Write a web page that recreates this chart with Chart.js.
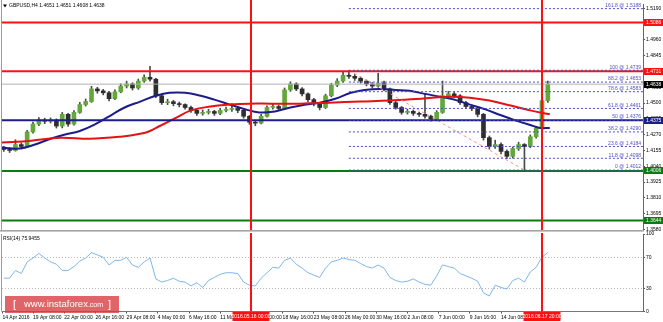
<!DOCTYPE html>
<html><head><meta charset="utf-8">
<script src="https://cdn.jsdelivr.net/npm/chart.js@4.4.1/dist/chart.umd.min.js"></script>
<style>
html,body{margin:0;padding:0;background:#fff;width:663px;height:322px;overflow:hidden;position:relative}
#c1{position:absolute;left:0;top:0}
#c2{position:absolute;left:0;top:226px}
</style></head><body>
<canvas id="c1" width="663" height="234"></canvas>
<canvas id="c2" width="663" height="96"></canvas>
<script>
// ---------------- DATA ----------------
const symbolTitle = 'GBPUSD,H4 1.4651 1.4651 1.4608 1.4638';
const rsiTitle = 'RSI(14) 75.9455';

// 12-hour candles (14 Apr 2016 .. 17 Jun 2016)
const candleOpen = [1.4170,1.4162,1.4155,1.4198,1.4184,1.4290,1.4347,1.4376,1.4368,1.4376,
1.4333,1.4418,1.4347,1.4432,1.4489,1.4511,1.4603,1.4589,1.4575,1.4532,
1.4582,1.4624,1.4639,1.4610,1.4660,1.4688,1.4674,1.4553,1.4503,1.4510,
1.4496,1.4489,1.4468,1.4447,1.4425,1.4432,1.4439,1.4425,1.4447,1.4454,
1.4461,1.4447,1.4404,1.4361,1.4354,1.4404,1.4468,1.4475,1.4461,1.4596,
1.4639,1.4603,1.4567,1.4525,1.4496,1.4468,1.4553,1.4631,1.4660,1.4703,
1.4695,1.4681,1.4660,1.4639,1.4624,1.4646,1.4603,1.4503,1.4468,1.4432,
1.4440,1.4425,1.4418,1.4404,1.4383,1.4432,1.4553,1.4567,1.4553,1.4503,
1.4475,1.4461,1.4418,1.4248,1.4184,1.4198,1.4148,1.4112,1.4169,1.4198,
1.4184,1.4255,1.4318,1.4518];
const candleClose = [1.4162,1.4155,1.4198,1.4184,1.4290,1.4347,1.4376,1.4368,1.4376,1.4333,
1.4418,1.4347,1.4432,1.4489,1.4511,1.4603,1.4589,1.4575,1.4532,1.4582,
1.4624,1.4639,1.4610,1.4660,1.4688,1.4674,1.4553,1.4503,1.4510,1.4496,
1.4489,1.4468,1.4447,1.4425,1.4432,1.4439,1.4425,1.4447,1.4454,1.4461,
1.4447,1.4404,1.4361,1.4354,1.4404,1.4468,1.4475,1.4461,1.4596,1.4639,
1.4603,1.4567,1.4525,1.4496,1.4468,1.4553,1.4631,1.4660,1.4703,1.4695,
1.4681,1.4660,1.4639,1.4624,1.4646,1.4603,1.4503,1.4468,1.4432,1.4440,
1.4425,1.4418,1.4404,1.4383,1.4432,1.4553,1.4567,1.4553,1.4503,1.4475,
1.4461,1.4418,1.4248,1.4184,1.4198,1.4148,1.4112,1.4169,1.4198,1.4184,
1.4255,1.4318,1.4518,1.4638];
const candleHigh = [1.4185,1.4176,1.4233,1.4210,1.4302,1.4362,1.4395,1.4390,1.4392,1.4385,
1.4432,1.4425,1.4445,1.4505,1.4530,1.4622,1.4615,1.4600,1.4585,1.4596,
1.4640,1.4660,1.4648,1.4675,1.4705,1.4767,1.4680,1.4565,1.4528,1.4520,
1.4508,1.4495,1.4478,1.4455,1.4450,1.4455,1.4448,1.4462,1.4470,1.4496,
1.4470,1.4455,1.4410,1.4372,1.4418,1.4480,1.4492,1.4485,1.4610,1.4655,
1.4648,1.4612,1.4575,1.4535,1.4505,1.4565,1.4645,1.4678,1.4725,1.4739,
1.4708,1.4690,1.4668,1.4650,1.4717,1.4660,1.4610,1.4512,1.4475,1.4455,
1.4450,1.4435,1.4567,1.4412,1.4445,1.4660,1.4585,1.4580,1.4562,1.4512,
1.4485,1.4470,1.4425,1.4260,1.4230,1.4210,1.4160,1.4180,1.4215,1.4205,
1.4268,1.4330,1.4530,1.4660];
const candleLow = [1.4148,1.4140,1.4150,1.4165,1.4178,1.4281,1.4335,1.4350,1.4355,1.4318,
1.4319,1.4330,1.4340,1.4425,1.4478,1.4505,1.4572,1.4560,1.4515,1.4525,
1.4575,1.4610,1.4595,1.4600,1.4650,1.4660,1.4540,1.4490,1.4488,1.4480,
1.4472,1.4455,1.4432,1.4410,1.4412,1.4420,1.4410,1.4415,1.4435,1.4440,
1.4430,1.4390,1.4345,1.4335,1.4348,1.4398,1.4455,1.4445,1.4455,1.4585,
1.4590,1.4552,1.4510,1.4480,1.4450,1.4460,1.4545,1.4620,1.4650,1.4680,
1.4665,1.4645,1.4625,1.4610,1.4615,1.4590,1.4490,1.4455,1.4418,1.4420,
1.4410,1.4402,1.4390,1.4368,1.4375,1.4425,1.4540,1.4538,1.4490,1.4460,
1.4445,1.4400,1.4230,1.4165,1.4170,1.4130,1.4095,1.4100,1.4155,1.4012,
1.4175,1.4245,1.4310,1.4505];

// moving averages (bar index, value)
const blueMaIdx = [4,13,21,29,36,44,52,60,67,75,83,90,98,106,113,121,129,136,144,152,160,167,175,183,190,198,206,213,221,229,236,244,252,260,267,275,280,285];
const blueMa = [1.4176,1.4169,1.4198,1.4240,1.4269,1.4297,1.4347,1.4411,1.4468,1.4511,1.4553,1.4575,1.4575,1.4553,1.4525,1.4489,1.4454,1.4432,1.4439,1.4468,1.4489,1.4503,1.4532,1.4575,1.4596,1.4603,1.4596,1.4589,1.4567,1.4546,1.4525,1.4489,1.4454,1.4411,1.4376,1.4340,1.4319,1.4319];
const redMaIdx = [4,19,34,49,65,75,80,85,93,101,111,121,131,142,157,172,188,203,219,234,244,254,265,275,285];
const redMa = [1.4212,1.4226,1.4248,1.4240,1.4255,1.4276,1.4297,1.4333,1.4390,1.4447,1.4475,1.4489,1.4496,1.4496,1.4496,1.4503,1.4511,1.4518,1.4532,1.4546,1.4539,1.4518,1.4482,1.4447,1.4418];

// RSI(14) per candle
const rsiValues = [43,43,53,49,64,69,75,69,64,61,53,53,58,65,69,76,73,70,60,66,
66,70,60,57,64,69,42,38,40,43,39,38,33,37,31,40,44,48,50,50,
49,38,34,33,43,50,57,56,66,69,61,56,50,47,44,56,64,66,69,67,
66,62,58,56,60,56,44,40,38,39,42,38,35,34,46,60,58,56,49,46,
43,39,24,20,34,31,29,40,43,38,51,57,70,76];

// Fibonacci retracement
const fibLevels = ['161.8','100','88.2','78.6','61.8','50','38.2','23.6','11.8','0'];
const fibPrices = [1.5188,1.4739,1.4653,1.4583,1.4461,1.4376,1.4290,1.4184,1.4098,1.4012];
const fibStartIdx = 182, fibEndIdx = 272;

// horizontal levels
const redLevels = [1.5086, 1.4731];
const blueLevels = [1.4375];
const greenLevels = [1.4006, 1.3644];
const currentPrice = 1.4638;

// axes
const yTickVals = [1.3580,1.3695,1.3810,1.3925,1.4040,1.4155,1.4270,1.4385,1.4500,1.4615,1.4730,1.4845,1.4960,1.5075,1.5190];
const rsiTickVals = [0,30,70,100];
const xTickIdx = [4.3,20,36,52,68,84,100,116,132,148,164,180,196,212,228,244,260,276];
const xTickLabels = ['14 Apr 2016','19 Apr 08:00','22 Apr 00:00','26 Apr 16:00','29 Apr 08:00','4 May 00:00','6 May 16:00','11 May 08:00','16 May 00:00','18 May 16:00','23 May 08:00','26 May 00:00','30 May 16:00','2 Jun 08:00','7 Jun 00:00','9 Jun 16:00','14 Jun 08:00','17 Jun 00:00'];
const markerIdx = [132, 281];
const markerLabels = ['2016.05.16 00:00','2016.06.17 20:00'];

// ---------------- STYLE / LAYOUT ----------------
const X_MIN = 4.1, X_MAX = 332.8;
const Y_MIN = 1.35756, Y_MAX = 1.52216;
const FONT = "'Liberation Sans',Arial,sans-serif";
const FS = 5;
const RED = '#ff1010', NAVY = '#1c1c8a', GREEN = '#0b7a12', FIBC = '#4f4fc8';
const UP = '#62a83a', DOWN = '#2e2e2e', WICK = '#4a4a4a';
const candleX = k => 3 * k + 5;   // bar index of the 12h candle centre

function hLine(p, color, w, dash, x0, x1) {
  return { type:'line', data:[{x:x0, y:p},{x:x1, y:p}], borderColor:color, borderWidth:w,
           borderDash:dash||[], pointRadius:0, order:3, tension:0 };
}

const datasets = [];
datasets.push({ type:'bar', data:candleLow.map((l,k)=>({x:candleX(k), y:[l, candleHigh[k]]})),
  backgroundColor:WICK, barThickness:1, grouped:false, order:12 });
datasets.push({ type:'bar', data:candleOpen.map((o,k)=>({x:candleX(k), y:[o, candleClose[k]]})),
  backgroundColor: c => { const k=c.dataIndex; return candleClose[k] >= candleOpen[k] ? UP : DOWN; },
  barThickness:4, grouped:false, order:11 });
datasets.push({ type:'line', data:redMaIdx.map((i,n)=>({x:i, y:redMa[n]})), borderColor:'#e41212', borderWidth:2, pointRadius:0, tension:0.4, order:5 });
datasets.push({ type:'line', data:blueMaIdx.map((i,n)=>({x:i, y:blueMa[n]})), borderColor:NAVY, borderWidth:2, pointRadius:0, tension:0.4, order:5 });
datasets.push(hLine(currentPrice, '#b0b0b0', 1, [], X_MIN, X_MAX));
fibPrices.forEach(p => datasets.push(hLine(p, FIBC, 1, [2,2], fibStartIdx, X_MAX)));
datasets.push({ type:'line', data:[{x:fibStartIdx, y:fibPrices[1]},{x:fibEndIdx, y:fibPrices[9]}], borderColor:'#ff8c8c', borderWidth:1, borderDash:[3,3], pointRadius:0, order:4 });
redLevels.forEach(p => datasets.push(hLine(p, RED, 2, [], X_MIN, X_MAX)));
blueLevels.forEach(p => datasets.push(hLine(p, NAVY, 2, [], X_MIN, X_MAX)));
greenLevels.forEach(p => datasets.push(hLine(p, GREEN, 2, [], X_MIN, X_MAX)));

function boxLabel(ctx, x, yc, w, h, bg, fg, text, align) {
  ctx.fillStyle = bg; ctx.fillRect(x, Math.round(yc - h/2), w, h);
  ctx.fillStyle = fg; ctx.font = FS + 'px ' + FONT; ctx.textBaseline = 'middle';
  ctx.textAlign = align || 'left';
  ctx.fillText(text, align === 'center' ? x + w/2 : x + 2, Math.round(yc - h/2) + h/2 + 0.5);
}

const mainPlugin = {
  id:'mainDeco',
  afterDraw(chart) {
    const {ctx, chartArea:a, scales:{x, y}} = chart;
    ctx.save();
    ctx.fillStyle = '#9a9a9a'; ctx.fillRect(1, 0, 1, a.bottom);
    ctx.strokeStyle = RED; ctx.lineWidth = 2;
    markerIdx.forEach(i => { const px = Math.round(x.getPixelForValue(i)); ctx.beginPath(); ctx.moveTo(px, 0); ctx.lineTo(px, a.bottom); ctx.stroke(); });
    ctx.font = FS + 'px ' + FONT; ctx.fillStyle = FIBC; ctx.textAlign = 'right'; ctx.textBaseline = 'bottom';
    fibLevels.forEach((lv, i) => ctx.fillText(lv + ' @ ' + fibPrices[i].toFixed(4), a.right - 2, y.getPixelForValue(fibPrices[i]) - 0.5));
    ctx.fillStyle = '#000';
    ctx.beginPath(); ctx.moveTo(3, 4.5); ctx.lineTo(7, 4.5); ctx.lineTo(5, 7.5); ctx.closePath(); ctx.fill();
    ctx.font = FS + 'px ' + FONT; ctx.textAlign = 'left'; ctx.textBaseline = 'middle';
    ctx.fillText(symbolTitle, 9, 6);
    const bx = a.right + 1, bw = 663 - a.right - 1;
    redLevels.forEach(p => boxLabel(ctx, bx, y.getPixelForValue(p), bw, 7, RED, '#fff', p.toFixed(4)));
    boxLabel(ctx, bx, y.getPixelForValue(currentPrice), bw, 7, '#000', '#fff', currentPrice.toFixed(4));
    blueLevels.forEach(p => boxLabel(ctx, bx, y.getPixelForValue(p), bw, 7, NAVY, '#fff', p.toFixed(4)));
    greenLevels.forEach(p => boxLabel(ctx, bx, y.getPixelForValue(p), bw, 7, GREEN, '#fff', p.toFixed(4)));
    ctx.fillStyle = '#a4a4a4'; ctx.fillRect(0, a.bottom, a.right + 1, 1);
    ctx.fillStyle = '#c8c8c8'; ctx.fillRect(0, a.bottom + 1, a.right + 1, 1);
    ctx.restore();
  }
};

new Chart(document.getElementById('c1'), {
  type:'bar',
  data:{ datasets },
  options:{
    responsive:false, animation:false, devicePixelRatio:1,
    layout:{ padding:{ left:2, top:1, right:0, bottom:1.5 } },
    plugins:{ legend:{display:false}, tooltip:{enabled:false} },
    scales:{
      x:{ type:'linear', min:X_MIN, max:X_MAX, offset:false, display:false },
      y:{ position:'right', min:Y_MIN, max:Y_MAX,
        afterBuildTicks: s => { s.ticks = yTickVals.map(v => ({value:v})); },
        afterFit: s => { s.width = 20; },
        ticks:{ font:{ size:FS, family:FONT }, color:'#000', padding:1, callback: v => Number(v).toFixed(4) },
        grid:{ drawOnChartArea:false, drawTicks:true, tickLength:2, color:'#555' },
        border:{ display:true, color:'#666', width:1 } }
    }
  },
  plugins:[mainPlugin]
});

const rsiPlugin = {
  id:'rsiDeco',
  beforeDatasetsDraw(chart) {
    const {ctx, chartArea:a, scales:{y}} = chart;
    ctx.save();
    ctx.strokeStyle = '#b8b8b8'; ctx.lineWidth = 1; ctx.setLineDash([1,2]);
    [70, 30].forEach(v => { const py = Math.round(y.getPixelForValue(v)) + 0.5; ctx.beginPath(); ctx.moveTo(a.left, py); ctx.lineTo(a.right, py); ctx.stroke(); });
    ctx.restore();
  },
  afterDraw(chart) {
    const {ctx, chartArea:a, scales:{x, y}} = chart;
    ctx.save();
    ctx.fillStyle = '#9a9a9a'; ctx.fillRect(1, a.top, 1, a.bottom - a.top);
    ctx.strokeStyle = RED; ctx.lineWidth = 2;
    markerIdx.forEach(i => { const px = Math.round(x.getPixelForValue(i)); ctx.beginPath(); ctx.moveTo(px, a.top - 1); ctx.lineTo(px, a.bottom); ctx.stroke(); });
    ctx.fillStyle = '#000'; ctx.font = FS + 'px ' + FONT; ctx.textAlign = 'left'; ctx.textBaseline = 'middle';
    ctx.fillText(rsiTitle, 3, a.top + 5);
    const wy = a.bottom - 15.5;
    ctx.fillStyle = 'rgba(214,58,62,0.78)'; ctx.fillRect(5, wy, 114, 17);
    ctx.fillStyle = '#fff'; ctx.textBaseline = 'middle';
    ctx.font = "11px 'Liberation Sans',Arial,sans-serif"; ctx.fillText('[', 13, wy + 8.5);
    ctx.fillText(']', 108, wy + 8.5);
    ctx.font = "9.5px 'Liberation Sans',Arial,sans-serif"; ctx.fillText('www.instaforex', 24, wy + 8.5);
    const w1 = ctx.measureText('www.instaforex').width;
    ctx.font = "7px 'Liberation Sans',Arial,sans-serif"; ctx.fillText('.com', 24 + w1, wy + 9.5);
    markerIdx.forEach((i, n) => boxLabel(ctx, Math.round(x.getPixelForValue(i)) - 18.5, a.bottom + 5, 37, 9, RED, '#fff', markerLabels[n], 'center'));
    ctx.restore();
  }
};

new Chart(document.getElementById('c2'), {
  type:'line',
  data:{ datasets:[{ data:rsiValues.map((v,k)=>({x:candleX(k), y:v})), borderColor:'#7db6ee', borderWidth:1, pointRadius:0, tension:0 }] },
  options:{
    responsive:false, animation:false, devicePixelRatio:1,
    layout:{ padding:{ left:2, top:8, right:0, bottom:0 } },
    plugins:{ legend:{display:false}, tooltip:{enabled:false} },
    scales:{
      x:{ type:'linear', min:X_MIN, max:X_MAX, offset:false,
        afterBuildTicks: s => { s.ticks = xTickIdx.map(v => ({value:v})); },
        afterFit: s => { s.height = 10.5; },
        ticks:{ font:{ size:FS, family:FONT }, color:'#000', padding:1, align:'start', autoSkip:false, maxRotation:0,
          callback: (v, i) => xTickLabels[i] },
        grid:{ drawOnChartArea:false, drawTicks:true, tickLength:2, color:'#555' },
        border:{ display:true, color:'#777', width:1 } },
      y:{ position:'right', min:0, max:100,
        afterBuildTicks: s => { s.ticks = rsiTickVals.map(v => ({value:v})); },
        afterFit: s => { s.width = 20; },
        ticks:{ font:{ size:FS, family:FONT }, color:'#000', padding:1 },
        grid:{ drawOnChartArea:false, drawTicks:true, tickLength:2, color:'#555' },
        border:{ display:true, color:'#666', width:1 } }
    }
  },
  plugins:[rsiPlugin]
});
</script>
</body></html>
